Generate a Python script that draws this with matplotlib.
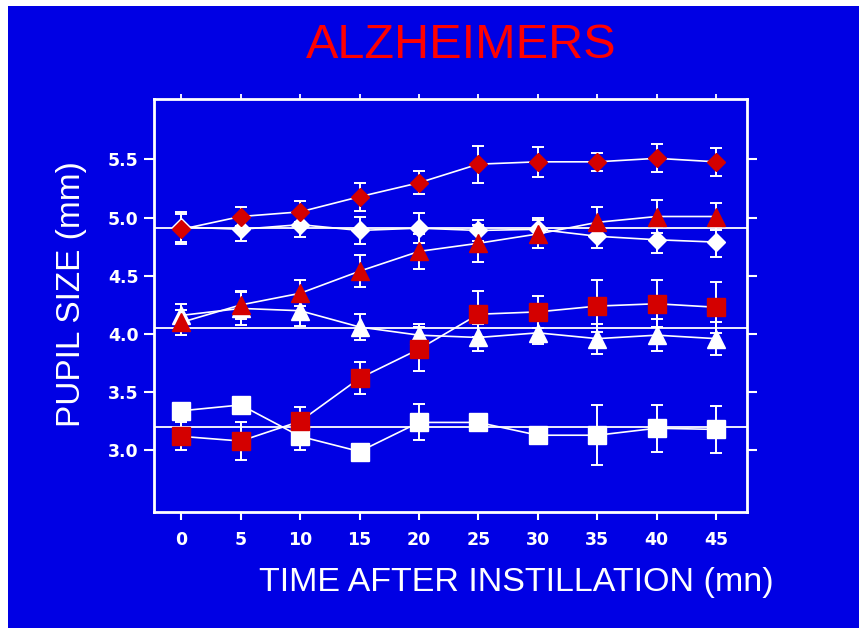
import matplotlib.pyplot as plt

## data

minutes = [0, 5, 10, 15, 20, 25, 30, 35, 40, 45]

red_diamond = [4.90, 5.01, 5.05, 5.18, 5.30, 5.46, 5.48, 5.48, 5.51, 5.48]
red_diamond_err = [0.13, 0.08, 0.09, 0.12, 0.10, 0.16, 0.13, 0.08, 0.12, 0.12]

white_diamond = [4.92, 4.90, 4.94, 4.89, 4.91, 4.89, 4.90, 4.84, 4.81, 4.79]
white_diamond_err = [0.13, 0.10, 0.11, 0.12, 0.13, 0.09, 0.10, 0.10, 0.11, 0.13]

red_triangle = [4.10, 4.25, 4.35, 4.54, 4.71, 4.78, 4.86, 4.96, 5.01, 5.01]
red_triangle_err = [0.11, 0.12, 0.11, 0.14, 0.15, 0.16, 0.12, 0.13, 0.14, 0.12]

white_triangle = [4.16, 4.22, 4.20, 4.06, 3.99, 3.97, 4.01, 3.96, 3.99, 3.96]
white_triangle_err = [0.10, 0.14, 0.13, 0.11, 0.10, 0.12, 0.10, 0.13, 0.14, 0.14]

red_square = [3.12, 3.08, 3.25, 3.62, 3.87, 4.17, 4.19, 4.24, 4.26, 4.23]
red_square_err = [0.12, 0.16, 0.12, 0.14, 0.19, 0.20, 0.14, 0.22, 0.20, 0.22]

white_square = [3.34, 3.39, 3.12, 2.99, 3.24, 3.24, 3.13, 3.13, 3.19, 3.18]
white_square_err = [0.05, 0.05, 0.12, 0.03, 0.155, 0.05, 0.05, 0.26, 0.20, 0.20]

baselines = [4.91, 4.05, 3.20]

yticks = [3.0, 3.5, 4.0, 4.5, 5.0, 5.5]

BLUE = '#0000E4'
RED = '#D40000'

fig = plt.figure(figsize=(8.59, 6.28), dpi=100, facecolor='white')
# blue panel, thin white strip left and top
fig.patches.append(plt.Rectangle((8 / 859, 0), 1, 1 - 6 / 628, transform=fig.transFigure,
                                 facecolor=BLUE, edgecolor='none', zorder=-5))

ax = fig.add_axes([154 / 859, 1 - 512 / 628, 593 / 859, 413 / 628])
ax.set_facecolor(BLUE)

for y in baselines:
    ax.axhline(y, color='white', linewidth=1.3, zorder=1)

series = [
    (white_square, white_square_err, 's', 'white', 12.5),
    (white_triangle, white_triangle_err, '^', 'white', 13),
    (white_diamond, white_diamond_err, 'D', 'white', 9.5),
    (red_square, red_square_err, 's', RED, 12.5),
    (red_triangle, red_triangle_err, '^', RED, 13),
    (red_diamond, red_diamond_err, 'D', RED, 9.5),
]

for i, (vals, err, mk, col, ms) in enumerate(series):
    ax.errorbar(minutes, vals, yerr=err, fmt='none', ecolor='white',
                elinewidth=1.4, capsize=4.5, capthick=1.4, zorder=2 + i)
    ax.plot(minutes, vals, '-', color='white', linewidth=1.2, zorder=2 + i)
    ax.plot(minutes, vals, linestyle='none', marker=mk, markersize=ms,
            markerfacecolor=col, markeredgecolor=col, zorder=2.5 + i)

ax.set_xlim(-2.3, 47.6)
ax.set_ylim(2.47, 6.02)
ax.set_xticks(minutes)
ax.set_yticks(yticks)
ax.set_yticklabels(['%.1f' % t for t in yticks])

for s in ax.spines.values():
    s.set_color('white')
    s.set_linewidth(2)

ax.tick_params(axis='x', direction='out', length=6, width=1.5, color='white',
               labelcolor='white', labelsize=12.5, pad=8)
ax.tick_params(axis='y', direction='out', length=7, width=1.5, color='white',
               labelcolor='white', labelsize=12.5, pad=4, right=True)
for lab in ax.get_xticklabels() + ax.get_yticklabels():
    lab.set_fontweight('bold')

# short ticks on the top edge
top = ax.secondary_xaxis('top')
top.set_xticks(minutes)
top.tick_params(direction='out', length=3.5, width=1.3, color='white', labeltop=False)
top.spines['top'].set_visible(False)

fig.text(461 / 859, 1 - 46 / 628, 'ALZHEIMERS', color='#FF0000', fontsize=35,
         family='Liberation Sans', ha='center', va='center')
fig.text(516 / 859, 1 - 583 / 628, 'TIME AFTER INSTILLATION (mn)', color='white',
         fontsize=24.5, family='Liberation Sans', ha='center', va='center')
fig.text(72 / 859, 1 - 294 / 628, 'PUPIL SIZE (mm)', color='white', fontsize=24,
         family='Liberation Sans', ha='center', va='center', rotation=90)

fig.savefig('out.png', dpi=100, facecolor='white')
